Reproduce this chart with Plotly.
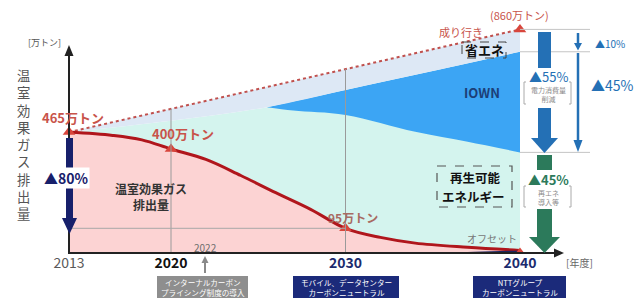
import numpy as np
import plotly.graph_objects as go

# ---------------- data ----------------
tick_years = [2013, 2020, 2030, 2040]
tick_labels = ["<span style='color:#5a5a5a'>2013</span>", "<b>2020</b>",
               "<span style='color:#1c2b6e'><b>2030</b></span>",
               "<span style='color:#1c2b6e'><b>2040</b></span>"]

# emissions curve (万トン)
red_years = [2013, 2016, 2018, 2020, 2022, 2024, 2026, 2028, 2030, 2032, 2034, 2037, 2040]
red_vals = [465, 452, 435, 400, 360, 298, 232, 168, 95, 60, 38, 22, 10]

# business-as-usual line
bau_years = [2013, 2040]
bau_vals = [465, 860]

# upper edge of mint / lower edge of energy-saving band
save_years = [2013, 2020, 2025.5, 2030, 2035, 2040]
save_vals = [465, 509, 561, 627, 700, 774]

# IOWN band lower edge
iown_years = [2025.5, 2027, 2030, 2034, 2037, 2040]
iown_low = [561, 548, 531, 466, 428, 387]

# offset wedge
off_years = [2033, 2036, 2040]
off_vals = [0, 3, 10]

# labelled points
pt_years = [2013, 2020, 2030, 2040, 2040]
pt_vals = [465, 400, 95, 0, 860]

# ---------------- scales ----------------
W, H = 636, 298
PH = 253          # plot area height (px); x axis sits at its bottom
X0, X1 = 2010.2006, 2046.648
AX13 = 2014.155   # axis position used for 2013 (compressed start)


def xpos(years):
    return np.interp(years, [2013, 2020, 2040], [AX13, 2020, 2040])


def X(px):
    return px / W


def Y(py):
    return 1 - py / PH


JP = "Noto Sans CJK JP"

MINT = "#d4f4ee"
SAVE = "#dde8f5"
IOWN = "#3ca5f4"
PINK = "#fcd3d3"
RED = "#b0161c"
NAVY = "#17206b"
BLUE = "#2470b5"
GREEN = "#2c7a5b"
SALMON = "#c8534a"

fig = go.Figure()

# mint region (renewables) under savings edge
fig.add_trace(go.Scatter(x=xpos(save_years), y=save_vals, mode="lines",
                         line=dict(width=0, shape="spline"), fill="tozeroy",
                         fillcolor=MINT, hoverinfo="skip", showlegend=False))
# IOWN band
fig.add_trace(go.Scatter(x=xpos(iown_years), y=iown_low, mode="lines",
                         line=dict(width=0, shape="spline"), hoverinfo="skip", showlegend=False))
fig.add_trace(go.Scatter(x=xpos(save_years[2:]), y=save_vals[2:], mode="lines",
                         line=dict(width=0, shape="spline"), fill="tonexty",
                         fillcolor=IOWN, hoverinfo="skip", showlegend=False))
# energy-saving band between savings edge and BAU
fig.add_trace(go.Scatter(x=xpos(save_years), y=save_vals, mode="lines",
                         line=dict(width=0, shape="spline"), hoverinfo="skip", showlegend=False))
fig.add_trace(go.Scatter(x=xpos(bau_years), y=bau_vals, mode="lines",
                         line=dict(width=2, color="#c0504d", dash="dot"), fill="tonexty",
                         fillcolor=SAVE, hoverinfo="skip", showlegend=False))
# emissions area
fig.add_trace(go.Scatter(x=xpos(red_years), y=red_vals, mode="lines",
                         line=dict(width=3, color=RED, shape="spline"), fill="tozeroy",
                         fillcolor=PINK, hoverinfo="skip", showlegend=False))
# offset wedge
fig.add_trace(go.Scatter(x=xpos(off_years), y=off_vals, mode="lines",
                         line=dict(width=0, shape="spline"), fill="tozeroy",
                         fillcolor="#1d2560", hoverinfo="skip", showlegend=False))
# markers
fig.add_trace(go.Scatter(x=xpos(pt_years), y=pt_vals, mode="markers",
                         marker=dict(symbol="triangle-up", size=11, color="#d8463c"),
                         hoverinfo="skip", showlegend=False))

shapes = []


def line_px(x0, y0, x1, y1, color, width):
    shapes.append(dict(type="line", xref="paper", yref="paper", x0=X(x0), y0=Y(y0),
                       x1=X(x1), y1=Y(y1), line=dict(color=color, width=width)))


def rect_px(x0, y0, x1, y1, fill, lc=None, dash=None, lw=0):
    shapes.append(dict(type="rect", xref="paper", yref="paper", x0=X(x0), y0=Y(y0),
                       x1=X(x1), y1=Y(y1), fillcolor=fill,
                       line=dict(color=lc or "rgba(0,0,0,0)", width=lw, dash=dash)))


def tri_px(pts, color):
    p = "M " + " L ".join(f"{X(a):.5f} {Y(b):.5f}" for a, b in pts) + " Z"
    shapes.append(dict(type="path", xref="paper", yref="paper", path=p,
                       fillcolor=color, line=dict(width=0)))


def bracket_px(x, y0, y1, side, color="#aaaaaa"):
    d = 2 if side == "l" else -2
    p = f"M {X(x + d):.5f} {Y(y0):.5f} L {X(x):.5f} {Y(y0):.5f} L {X(x):.5f} {Y(y1):.5f} L {X(x + d):.5f} {Y(y1):.5f}"
    shapes.append(dict(type="path", xref="paper", yref="paper", path=p,
                       line=dict(color=color, width=1)))


# guide lines in data coordinates
bau_at = lambda yr: np.interp(xpos(yr), xpos(bau_years), bau_vals)
for yr in (2020, 2030):
    shapes.append(dict(type="line", xref="x", yref="y", x0=xpos(yr), x1=xpos(yr),
                       y0=0, y1=float(bau_at(yr)), line=dict(color="#9a9a9a", width=1)))
shapes.append(dict(type="line", xref="x", yref="y", x0=xpos(2013), x1=xpos(2030),
                   y0=95, y1=95, line=dict(color="#a8a8a8", width=1)))
for lv in (860, 774, 387):
    shapes.append(dict(type="line", xref="x", yref="y", x0=2040, x1=X1 - (636 - 590) / 17.45,
                       y0=lv, y1=lv, line=dict(color="#c4c4c4", width=1)))

# axes arrows
line_px(69, 253, 69, 54, "#222222", 2)
tri_px([(64.5, 56), (73.5, 56), (69, 45)], "#222222")
line_px(68, 253, 556, 253, "#222222", 2)
tri_px([(554, 248.5), (554, 257.5), (564, 253)], "#222222")

# navy -80% arrow
rect_px(66, 138, 73, 219, NAVY)
tri_px([(62, 218), (77, 218), (69.5, 234)], NAVY)

# blue thick arrow (-55%)
rect_px(538, 32, 551, 139, BLUE)
tri_px([(531, 138), (558, 138), (544.5, 153)], BLUE)
rect_px(521, 68, 575, 108, "white")
bracket_px(524, 82, 104, "l")
bracket_px(571, 82, 104, "r")

# thin blue arrows
line_px(578, 33, 578, 44, BLUE, 2.5)
tri_px([(574, 43), (582, 43), (578, 50.5)], BLUE)
line_px(578, 53, 578, 141, BLUE, 2.5)
tri_px([(573.5, 140), (582.5, 140), (578, 152)], BLUE)

# green arrow (-45%)
rect_px(537, 155, 552, 238, GREEN)
tri_px([(529, 237), (560, 237), (544.5, 253)], GREEN)
rect_px(521, 170, 575, 209, "white")
bracket_px(524, 186, 207, "l")
bracket_px(571, 186, 207, "r")

# 2022 arrow
line_px(205, 273, 205, 262, "#8a8a8a", 2)
tri_px([(201.5, 263), (208.5, 263), (205, 256)], "#8a8a8a")

# dashed boxes
rect_px(462, 42, 506, 58, "rgba(0,0,0,0)", "#444444", "dash", 1)
rect_px(437, 166, 512, 207, "rgba(0,0,0,0)", "#555555", "dash", 1.2)

# bottom boxes
rect_px(157, 276, 248, 298, "#8e8e8e")
rect_px(293, 276, 399, 298, "#1b2a7a")
rect_px(473, 276, 566, 298, "#1b2a7a")

ann = []


def txt(px, py, s, size, color, bold=False, bg=None, xa="center"):
    ann.append(dict(xref="paper", yref="paper", x=X(px), y=Y(py), text=(f"<b>{s}</b>" if bold else s),
                    showarrow=False, xanchor=xa, yanchor="middle",
                    font=dict(family=JP, size=size, color=color),
                    bgcolor=bg, borderpad=0))


# vertical y label (stacked characters)
txt(23, 144, "<br>".join("温室効果ガス排出量"), 13.3, "#555555")
txt(44, 42, "[万トン]", 9, "#555555")

txt(73, 117, "465万トン", 13, SALMON, bold=True)
txt(183, 133, "400万トン", 13, SALMON, bold=True)
txt(353, 217, "95万トン", 12, "#a86a62", bold=True)
txt(519, 15, "(860万トン)", 11, SALMON)
txt(461, 32, "成り行き", 11, SALMON)
txt(484, 50, "省エネ", 13, "#111111", bold=True)
txt(482, 92, "IOWN", 13, "#1c3f77", bold=True)
txt(476, 177, "再生可能", 12.5, "#111111", bold=True)
txt(474, 196, "エネルギー", 12.5, "#111111", bold=True)
txt(151, 196, "温室効果ガス<br>排出量", 12, "#333333", bold=True)
txt(492, 238, "オフセット", 10, "#777777")
txt(66, 178, "▲80%", 14, NAVY, bold=True, bg="white")

txt(548, 76, "▲55%", 13, BLUE)
txt(548, 94, "電力消費量<br>削減", 7, "#8a8a8a")
txt(610, 43, "▲10%", 10, BLUE)
txt(612, 85, "▲45%", 14, BLUE)
txt(548, 179, "▲45%", 13, GREEN, bold=True)
txt(548, 197, "再エネ<br>導入等", 7, "#8a8a8a")

txt(205, 247, "2022", 10, "#6e6e6e")
txt(579, 262, "[年度]", 10, "#666666")

txt(202.5, 287, "インターナルカーボン<br>プライシング制度の導入", 7.6, "white")
txt(346, 287, "モバイル、データセンター<br>カーボンニュートラル", 7.6, "white")
txt(519.5, 287, "NTTグループ<br>カーボンニュートラル", 7.6, "white")

fig.update_layout(
    width=W, height=H, autosize=False,
    margin=dict(l=0, r=0, t=0, b=H - PH, pad=0),
    paper_bgcolor="white", plot_bgcolor="white",
    xaxis=dict(range=[X0, X1], showgrid=False, zeroline=False, showline=False,
               tickvals=list(xpos(tick_years)), ticktext=tick_labels, ticks="",
               tickfont=dict(family=JP, size=14, color="#111111"), fixedrange=True),
    yaxis=dict(range=[0, PH / 0.26], showgrid=False, zeroline=False, showline=False,
               showticklabels=False, fixedrange=True),
    shapes=shapes, annotations=ann, showlegend=False,
)

fig.write_html("out.html", config={"staticPlot": True},
               post_script="document.body.style.margin='0';document.body.style.overflow='hidden';")
